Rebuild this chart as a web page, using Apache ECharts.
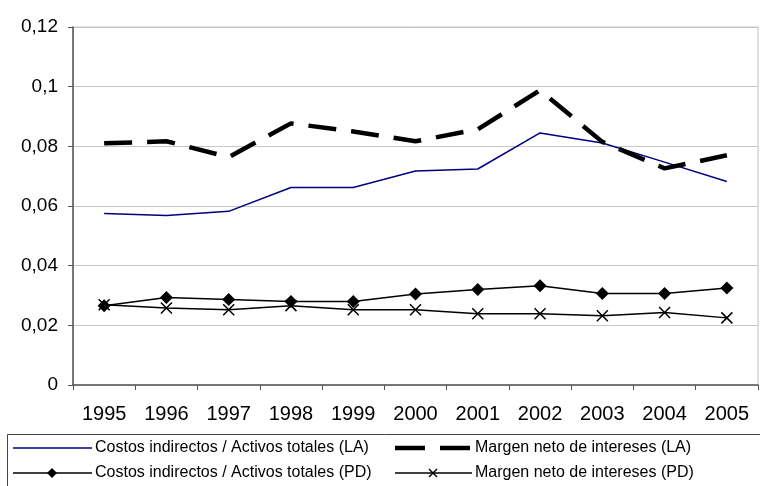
<!DOCTYPE html>
<html>
<head>
<meta charset="utf-8">
<script src="https://cdn.jsdelivr.net/npm/echarts@6/dist/echarts.min.js"></script>
<style>
    html, body { margin: 0; padding: 0; background: #fff; }
    #chart { width: 760px; height: 486px; }
</style>
</head>
<body>
<div id="chart"></div>
<script>
// data
let years = ['1995', '1996', '1997', '1998', '1999', '2000', '2001', '2002', '2003', '2004', '2005'];
let costosLA = [0.0575, 0.0568, 0.0582, 0.0662, 0.0662, 0.0717, 0.0724, 0.0845, 0.0811, 0.0747, 0.0682];
let margenLA = [0.0810, 0.0817, 0.0764, 0.0877, 0.0850, 0.0817, 0.0857, 0.0988, 0.0815, 0.0726, 0.0770];
let costosPD = [0.0266, 0.0293, 0.0287, 0.0280, 0.0280, 0.0305, 0.0320, 0.0333, 0.0307, 0.0307, 0.0325];
let margenPD = [0.0269, 0.0258, 0.0252, 0.0266, 0.0252, 0.0252, 0.0239, 0.0239, 0.0232, 0.0243, 0.0225];
let yTicks = [0, 0.02, 0.04, 0.06, 0.08, 0.1, 0.12];

let names = [
    'Costos indirectos / Activos totales (LA)',
    'Margen neto de intereses (LA)',
    'Costos indirectos / Activos totales (PD)',
    'Margen neto de intereses (PD)'
];

let chart = echarts.init(document.getElementById('chart'));

function fmt(v) {
    let i = yTicks.indexOf(v);
    if (i < 0) return '';
    return String(yTicks[i]).replace('.', ',');
}

// legend drawn by hand, Excel style box with two columns
let font = '16px "Liberation Sans", Arial, sans-serif';

function label(text, x, y) {
    return {
        type: 'text', x: x, y: y, silent: true,
        style: { text: text, font: font, fill: '#000', verticalAlign: 'middle', align: 'left' }
    };
}

function hline(x1, x2, y, color, w) {
    return {
        type: 'line', silent: true,
        shape: { x1: x1, y1: y, x2: x2, y2: y },
        style: { stroke: color, lineWidth: w }
    };
}

let row1 = 448, row2 = 473;
let legendItems = [
    {
        type: 'rect', silent: true,
        shape: { x: 7.5, y: 434.5, width: 760, height: 60 },
        style: { fill: 'none', stroke: '#444', lineWidth: 1 }
    },
    hline(13, 92, row1, '#000080', 1.5),
    label(names[0], 95, row1),
    {
        type: 'rect', silent: true,
        shape: { x: 395, y: row1 - 2.25, width: 30, height: 4.5 },
        style: { fill: '#000' }
    },
    {
        type: 'rect', silent: true,
        shape: { x: 440, y: row1 - 2.25, width: 30, height: 4.5 },
        style: { fill: '#000' }
    },
    label(names[1], 475, row1),
    hline(13, 92, row2, '#000', 1.5),
    {
        type: 'polygon', silent: true,
        shape: { points: [[52, row2 - 5], [57, row2], [52, row2 + 5], [47, row2]] },
        style: { fill: '#000' }
    },
    label(names[2], 95, row2),
    hline(395, 472, row2, '#000', 1.5),
    {
        type: 'polyline', silent: true,
        shape: { points: [[429, row2 - 4], [437, row2 + 4]] },
        style: { stroke: '#000', lineWidth: 1.5 }
    },
    {
        type: 'polyline', silent: true,
        shape: { points: [[437, row2 - 4], [429, row2 + 4]] },
        style: { stroke: '#000', lineWidth: 1.5 }
    },
    label(names[3], 475, row2)
];

let option = {
    animation: false,
    backgroundColor: '#fff',
    grid: {
        left: 73,
        right: 2,
        top: 27,
        bottom: 101,
        show: true,
        borderColor: '#c0c0c0',
        borderWidth: 1
    },
    graphic: legendItems,
    xAxis: {
        type: 'category',
        data: years,
        boundaryGap: true,
        axisLine: { lineStyle: { color: '#555', width: 1.5 } },
        axisTick: { show: true, length: 5, lineStyle: { color: '#555' } },
        axisLabel: {
            fontFamily: 'Liberation Sans',
            fontSize: 20,
            color: '#000',
            margin: 19
        }
    },
    yAxis: {
        type: 'value',
        min: 0,
        max: 0.12,
        interval: 0.02,
        axisLine: { show: true, lineStyle: { color: '#555', width: 1.5 } },
        axisTick: { show: true, length: 5, lineStyle: { color: '#555' } },
        splitLine: { lineStyle: { color: '#c8c8c8', width: 1 } },
        axisLabel: {
            fontFamily: 'Liberation Sans',
            fontSize: 19,
            color: '#000',
            margin: 15,
            formatter: fmt
        }
    },
    series: [
        {
            name: names[0],
            type: 'line',
            data: costosLA,
            symbol: 'none',
            color: '#000080',
            lineStyle: { color: '#000080', width: 1.5 }
        },
        {
            name: names[1],
            type: 'line',
            data: margenLA,
            symbol: 'none',
            color: '#000',
            lineStyle: { color: '#000', width: 4.5, type: [28, 15] }
        },
        {
            name: names[2],
            type: 'line',
            data: costosPD,
            symbol: 'diamond',
            symbolSize: 13,
            color: '#000',
            itemStyle: { color: '#000' },
            lineStyle: { color: '#000', width: 1.5 }
        },
        {
            name: names[3],
            type: 'line',
            data: margenPD,
            symbol: 'path://M0,0L10,10M10,0L0,10',
            symbolSize: 11,
            color: '#000',
            itemStyle: { color: 'none', borderColor: '#000', borderWidth: 1.5 },
            lineStyle: { color: '#000', width: 1.5 }
        }
    ]
};

chart.setOption(option);
</script>
</body>
</html>
